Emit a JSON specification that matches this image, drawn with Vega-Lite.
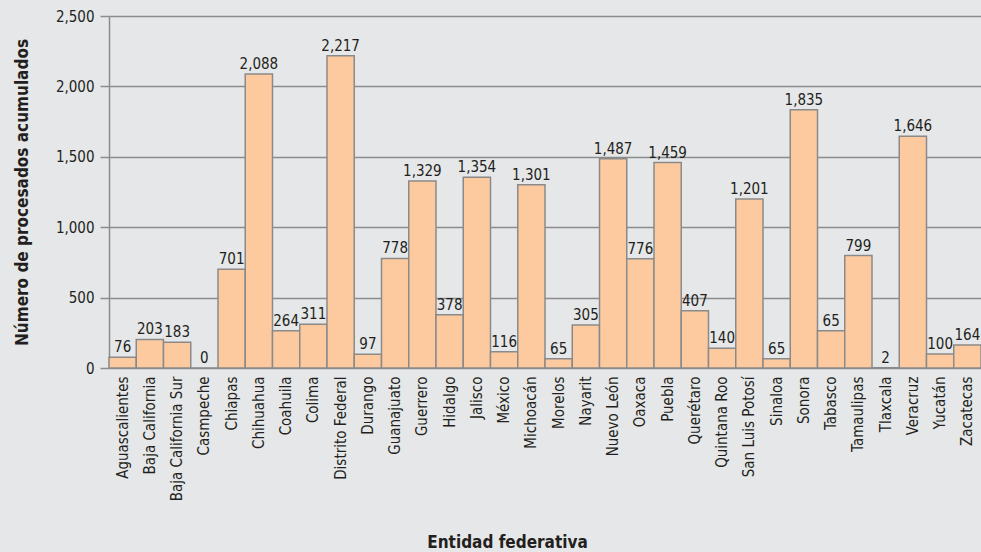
{
  "$schema": "https://vega.github.io/schema/vega-lite/v6.json",
  "width": 872,
  "height": 352,
  "autosize": {"type": "none"},
  "padding": {"left": 109, "top": 16, "right": 0, "bottom": 184},
  "background": "#e6e7e8",
  "config": {
    "view": {"stroke": null},
    "font": "DejaVu Sans Condensed, DejaVu Sans",
    "axis": {"labelFont": "DejaVu Sans Condensed, DejaVu Sans", "titleFont": "DejaVu Sans Condensed, DejaVu Sans", "labelColor": "#231f20", "titleColor": "#231f20"}
  },
  "data": {
    "values": [
      {"entidad": "Aguascalientes", "valor": 76, "etiqueta": 76},
      {"entidad": "Baja California", "valor": 203, "etiqueta": 203},
      {"entidad": "Baja California Sur", "valor": 183, "etiqueta": 183},
      {"entidad": "Casmpeche", "valor": 0, "etiqueta": 0},
      {"entidad": "Chiapas", "valor": 701, "etiqueta": 701},
      {"entidad": "Chihuahua", "valor": 2088, "etiqueta": 2088},
      {"entidad": "Coahuila", "valor": 264, "etiqueta": 264},
      {"entidad": "Colima", "valor": 311, "etiqueta": 311},
      {"entidad": "Distrito Federal", "valor": 2217, "etiqueta": 2217},
      {"entidad": "Durango", "valor": 97, "etiqueta": 97},
      {"entidad": "Guanajuato", "valor": 778, "etiqueta": 778},
      {"entidad": "Guerrero", "valor": 1329, "etiqueta": 1329},
      {"entidad": "Hidalgo", "valor": 378, "etiqueta": 378},
      {"entidad": "Jalisco", "valor": 1354, "etiqueta": 1354},
      {"entidad": "México", "valor": 116, "etiqueta": 116},
      {"entidad": "Michoacán", "valor": 1301, "etiqueta": 1301},
      {"entidad": "Morelos", "valor": 65, "etiqueta": 65},
      {"entidad": "Nayarit", "valor": 305, "etiqueta": 305},
      {"entidad": "Nuevo León", "valor": 1487, "etiqueta": 1487},
      {"entidad": "Oaxaca", "valor": 776, "etiqueta": 776},
      {"entidad": "Puebla", "valor": 1459, "etiqueta": 1459},
      {"entidad": "Querétaro", "valor": 407, "etiqueta": 407},
      {"entidad": "Quintana Roo", "valor": 140, "etiqueta": 140},
      {"entidad": "San Luis Potosí", "valor": 1201, "etiqueta": 1201},
      {"entidad": "Sinaloa", "valor": 65, "etiqueta": 65},
      {"entidad": "Sonora", "valor": 1835, "etiqueta": 1835},
      {"entidad": "Tabasco", "valor": 265, "etiqueta": 65},
      {"entidad": "Tamaulipas", "valor": 799, "etiqueta": 799},
      {"entidad": "Tlaxcala", "valor": 2, "etiqueta": 2},
      {"entidad": "Veracruz", "valor": 1646, "etiqueta": 1646},
      {"entidad": "Yucatán", "valor": 100, "etiqueta": 100},
      {"entidad": "Zacatecas", "valor": 164, "etiqueta": 164}
    ]
  },
  "encoding": {
    "x": {
      "field": "entidad", "type": "nominal", "sort": null,
      "scale": {"paddingInner": 0, "paddingOuter": 0},
      "axis": {
        "title": "Entidad federativa", "titleFontSize": 17, "titleFontWeight": "bold",
        "titleX": 398, "titleY": 179, "titleBaseline": "alphabetic", "titleAnchor": "start", "titleAlign": "center",
        "labelAngle": -90, "labelFontSize": 15, "labelPadding": 8, "labelAlign": "right", "labelBaseline": "middle",
        "ticks": false, "domain": false, "grid": false
      }
    },
    "y": {
      "field": "valor", "type": "quantitative",
      "scale": {"domain": [0, 2500], "nice": false},
      "axis": {
        "title": "Número de procesados acumulados", "titleFontSize": 17, "titleFontWeight": "bold",
        "titleX": -87, "titleY": 176, "titleAlign": "center", "titleBaseline": "middle", "titleAngle": -90,
        "values": [0, 500, 1000, 1500, 2000, 2500], "format": ",d",
        "labelFontSize": 15, "labelPadding": 6, "tickSize": 9, "tickColor": "#8c8c8c", "tickWidth": 1.5,
        "domainColor": "#8c8c8c", "domainWidth": 1.5,
        "gridColor": "#8c8c8c", "gridWidth": 1.5
      }
    }
  },
  "layer": [
    {"mark": {"type": "bar", "fill": "#fdca9f", "stroke": "#8a8a8a", "strokeWidth": 1.5}},
    {
      "mark": {"type": "text", "baseline": "alphabetic", "dy": -5, "fontSize": 15, "color": "#231f20", "font": "DejaVu Sans Condensed, DejaVu Sans"},
      "encoding": {"text": {"field": "etiqueta", "type": "quantitative", "format": ",d"}}
    }
  ]
}
